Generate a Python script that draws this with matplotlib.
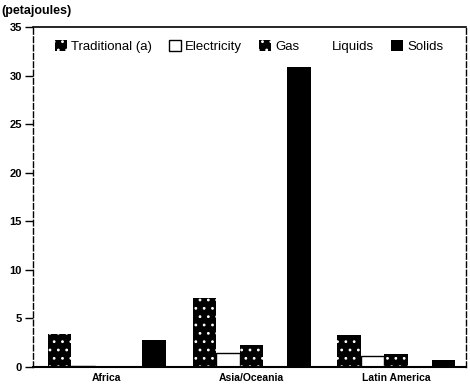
import matplotlib
matplotlib.use("Agg")
import matplotlib.pyplot as plt
import numpy as np

regions = ["Africa", "Asia/Oceania", "Latin America"]
series = ["Traditional (a)", "Electricity", "Gas", "Liquids", "Solids"]
traditional = [3.4, 7.1, 3.3]
electricity = [0.1, 1.4, 1.1]
gas = [0.0, 2.3, 1.35]
liquids = [0.05, 0.05, 0.05]
solids = [2.8, 30.9, 0.7]
yticks = [0, 5, 10, 15, 20, 25, 30, 35]

plt.rcParams['font.family'] = ['Liberation Sans', 'DejaVu Sans']
plt.rcParams['hatch.linewidth'] = 0.8

fig = plt.figure(figsize=(4.7, 3.88), dpi=100)
ax = fig.add_axes([0.070, 0.054, 0.921, 0.876])

x = np.arange(len(regions))
w = 0.163
offs = (np.arange(5) - 2) * w
styles = [
    dict(color='black', hatch='..', edgecolor='white', linewidth=0),
    dict(facecolor='white', edgecolor='black', linewidth=1.0),
    dict(color='black', hatch='..', edgecolor='white', linewidth=0),
    dict(facecolor='white', edgecolor='white', linewidth=0),
    dict(facecolor='black', edgecolor='black', linewidth=0),
]
data = [traditional, electricity, gas, liquids, solids]
handles = []
for i, (vals, st) in enumerate(zip(data, styles)):
    b = ax.bar(x + offs[i], vals, w, label=series[i], **st)
    handles.append(b)

ax.set_xlim(-0.51, 2.48)
ax.set_ylim(0, 35)
ax.set_yticks(yticks)
ax.set_yticklabels([str(t) for t in yticks], fontsize=8, fontweight='bold')
ax.set_xticks(x)
ax.set_xticklabels(regions, fontsize=7.5, fontweight='bold')
ax.tick_params(axis='x', length=0, pad=4)
ax.tick_params(axis='y', length=6, width=1, pad=2, direction='out')

ax.spines['left'].set_linestyle((0, (4, 2)))
ax.spines['right'].set_linestyle((0, (4, 2)))
ax.spines['top'].set_linewidth(1.2)
ax.spines['bottom'].set_linewidth(1.5)
ax.spines['left'].set_linewidth(1.0)
ax.spines['right'].set_linewidth(1.0)

leg = ax.legend(handles=handles, labels=series, ncol=5, loc='upper center',
                bbox_to_anchor=(0.5, 0.985), frameon=False, fontsize=9.5,
                handlelength=0.9, handleheight=0.9, handletextpad=0.3,
                columnspacing=1.3, borderaxespad=0.2)

fig.text(0.002, 0.972, "(petajoules)", fontsize=9, fontweight='bold', va='center', ha='left')

fig.savefig("out.png", dpi=100)
